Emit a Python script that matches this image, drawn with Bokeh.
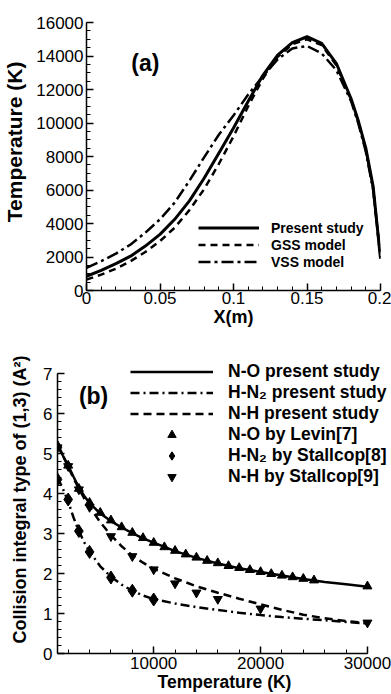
from bokeh.plotting import figure
from bokeh.models import (Legend, LegendItem, Label, SingleIntervalTicker,
                          FixedTicker, CustomJSTickFormatter)
from bokeh.embed import file_html
from bokeh.resources import INLINE

FONT = "Liberation Sans"

# ---------------- Panel (a) data ----------------
x_pos = [0.0, 0.01, 0.02, 0.03, 0.04, 0.05, 0.06, 0.07, 0.08, 0.09, 0.10,
         0.11, 0.12, 0.13, 0.14, 0.15, 0.16, 0.17, 0.18, 0.185, 0.19, 0.195, 0.20]
t_present = [850, 1200, 1600, 2050, 2650, 3350, 4250, 5350, 6700, 8200, 9700,
             11300, 12850, 14050, 14800, 15150, 14750, 13550, 11450, 10100, 8500, 6200, 1900]
t_gss = [650, 950, 1300, 1750, 2300, 2950, 3750, 4800, 6050, 7550, 9200,
         11000, 12650, 13950, 14700, 15000, 14650, 13450, 11400, 10050, 8400, 6100, 1900]
t_vss = [1350, 1750, 2200, 2750, 3450, 4250, 5250, 6550, 7950, 9300, 10450,
         11700, 12800, 13800, 14450, 14600, 14150, 13150, 11300, 9950, 8300, 6000, 2000]
labels_a = ["Present study", "GSS model", "VSS model"]

# ---------------- Panel (b) data ----------------
t_curve = [1000, 1500, 2000, 2500, 3000, 3500, 4000, 5000, 6000, 7000, 8000, 9000,
           10000, 12000, 14000, 16000, 18000, 20000, 22000, 24000, 26000, 28000, 30000]
no_curve = [5.25, 4.95, 4.70, 4.42, 4.15, 3.94, 3.76, 3.50, 3.31, 3.15, 3.01, 2.88,
            2.77, 2.56, 2.39, 2.25, 2.13, 2.04, 1.95, 1.86, 1.79, 1.73, 1.67]
hn2_curve = [4.40, 4.12, 3.80, 3.40, 3.06, 2.78, 2.55, 2.18, 1.92, 1.72, 1.57, 1.45,
             1.36, 1.25, 1.16, 1.09, 1.02, 0.96, 0.91, 0.87, 0.83, 0.79, 0.75]
nh_curve = [5.20, 4.95, 4.66, 4.38, 4.12, 3.88, 3.68, 3.28, 2.96, 2.68, 2.45, 2.27,
            2.12, 1.88, 1.68, 1.52, 1.37, 1.23, 1.09, 0.97, 0.88, 0.81, 0.76]

levin_t = [1000, 2000, 3000, 4000, 5000, 6000, 7000, 8000, 9000, 10000, 11000, 12000,
           13000, 14000, 15000, 16000, 17000, 18000, 19000, 20000, 21000, 22000, 23000,
           24000, 25000, 30000]
levin_no = [5.20, 4.70, 4.12, 3.77, 3.52, 3.33, 3.16, 3.02, 2.89, 2.77, 2.66, 2.57,
            2.48, 2.40, 2.32, 2.26, 2.19, 2.14, 2.09, 2.04, 1.99, 1.95, 1.91,
            1.87, 1.83, 1.68]
stall_hn2_t = [1000, 2000, 3000, 4000, 6000, 8000, 10000]
stall_hn2 = [4.35, 3.85, 3.06, 2.54, 1.90, 1.57, 1.35]
stall_nh_t = [1000, 2000, 3000, 4000, 6000, 8000, 10000, 12000, 14000, 16000, 20000, 30000]
stall_nh = [5.15, 4.68, 4.10, 3.66, 2.93, 2.43, 2.10, 1.75, 1.52, 1.36, 1.12, 0.77]
labels_b = ["N-O present study", "H-N\u2082 present study", "N-H present study",
            "N-O by Levin[7]", "H-N\u2082 by Stallcop[8]", "N-H by Stallcop[9]"]


def style(p, tick_size="17px"):
    p.grid.visible = False
    p.outline_line_color = None
    p.background_fill_color = "white"
    for ax in (p.xaxis[0], p.yaxis[0]):
        ax.axis_line_width = 1.5
        ax.axis_line_color = "black"
        ax.major_tick_in = 7
        ax.major_tick_out = 0
        ax.minor_tick_in = 4
        ax.minor_tick_out = 0
        ax.major_tick_line_width = 1.5
        ax.minor_tick_line_width = 1
        ax.major_tick_line_color = "black"
        ax.minor_tick_line_color = "black"
        ax.major_label_text_font = FONT
        ax.major_label_text_font_size = tick_size
        ax.major_label_text_color = "black"
        ax.axis_label_text_font = FONT
        ax.axis_label_text_font_style = "bold"
        ax.axis_label_text_color = "black"


# ---------------- Figure (a) ----------------
p1 = figure(width=391, height=340, x_range=(0, 0.2), y_range=(0, 16000),
            output_backend="svg", toolbar_location=None,
            min_border_left=85, min_border_right=11, min_border_top=22, min_border_bottom=50)
style(p1)
p1.xaxis[0].ticker = FixedTicker(ticks=[0, 0.05, 0.1, 0.15, 0.2],
                                 minor_ticks=[i * 0.01 for i in range(21)])
p1.xaxis[0].formatter = CustomJSTickFormatter(code="return String(Math.round(tick*100)/100);")
p1.yaxis[0].ticker = SingleIntervalTicker(interval=2000, num_minor_ticks=4)
p1.xaxis[0].axis_label = "X(m)"
# leading no-break spaces move the visible (rotated) label slightly upward, as in the original
p1.yaxis[0].axis_label = "\u00a0" * 5 + "Temperature (K)"
p1.xaxis[0].axis_label_text_font_size = "18px"
p1.yaxis[0].axis_label_text_font_size = "21px"
p1.xaxis[0].major_label_standoff = 1
p1.xaxis[0].axis_label_standoff = 0
p1.yaxis[0].major_label_standoff = 3
p1.yaxis[0].axis_label_standoff = 7

ra1 = p1.line(x_pos, t_present, line_color="black", line_width=3)
ra2 = p1.line(x_pos, t_gss, line_color="black", line_width=2.5, line_dash="7 5")
ra3 = p1.line(x_pos, t_vss, line_color="black", line_width=2.5, line_dash="12 4 3 4")

leg1 = Legend(items=[LegendItem(label=labels_a[0], renderers=[ra1]),
                     LegendItem(label=labels_a[1], renderers=[ra2]),
                     LegendItem(label=labels_a[2], renderers=[ra3])],
              location=(112, 20), padding=0, margin=0, spacing=0,
              glyph_width=61, glyph_height=17, label_height=17, label_standoff=12,
              border_line_color=None, background_fill_alpha=0,
              label_text_font=FONT, label_text_font_size="14px",
              label_text_font_style="bold", label_text_color="black")
p1.add_layout(leg1)
p1.add_layout(Label(x=0.0305, y=13600, text="(a)", text_font=FONT, text_font_size="23px",
                    text_font_style="bold", text_baseline="middle", text_color="black"))

# ---------------- Figure (b) ----------------
# frame extends beyond the drawn axes so that the legend is not clipped
p2 = figure(width=391, height=354, x_range=(1000, 32250), y_range=(0, 7.7),
            output_backend="svg", toolbar_location=None,
            min_border_left=57, min_border_right=0, min_border_top=5, min_border_bottom=40)
style(p2)
p2.xaxis[0].bounds = (1000, 30000)
p2.yaxis[0].bounds = (0, 7)
p2.xaxis[0].ticker = SingleIntervalTicker(interval=10000, num_minor_ticks=5)
p2.yaxis[0].ticker = SingleIntervalTicker(interval=1, num_minor_ticks=5)
p2.xaxis[0].axis_label = "Temperature (K)"
p2.yaxis[0].axis_label = "Collision integral type of (1,3) (A\u00b2)"
p2.xaxis[0].axis_label_text_font_size = "17.5px"
p2.yaxis[0].axis_label_text_font_size = "18px"
p2.xaxis[0].major_label_standoff = 3
p2.xaxis[0].axis_label_standoff = 0
p2.yaxis[0].major_label_standoff = 5
p2.yaxis[0].axis_label_standoff = 10

rb1 = p2.line(t_curve, no_curve, line_color="black", line_width=2.5)
rb2 = p2.line(t_curve, hn2_curve, line_color="black", line_width=2.5, line_dash="9 4 2 4")
rb3 = p2.line(t_curve, nh_curve, line_color="black", line_width=2.5, line_dash="8 5")
rb4 = p2.scatter(levin_t, levin_no, marker="triangle", size=9,
                 fill_color="black", line_color="black")
rb5 = p2.scatter(stall_hn2_t, stall_hn2, marker="diamond", size=13,
                 fill_color="black", line_color="black")
rb6 = p2.scatter(stall_nh_t, stall_nh, marker="inverted_triangle", size=9,
                 fill_color="black", line_color="black")

leg2 = Legend(items=[LegendItem(label=l, renderers=[r]) for l, r in
                     zip(labels_b, [rb1, rb2, rb3, rb4, rb5, rb6])],
              location=(73, 166), padding=0, margin=0, spacing=0,
              glyph_width=83, glyph_height=21, label_height=21, label_standoff=15,
              border_line_color=None, background_fill_alpha=0,
              label_text_font=FONT, label_text_font_size="17.5px",
              label_text_font_style="bold", label_text_color="black")
p2.add_layout(leg2)
p2.add_layout(Label(x=3000, y=6.43, text="(b)", text_font=FONT, text_font_size="23px",
                    text_font_style="bold", text_baseline="middle", text_color="black"))

open("out.html", "w").write(file_html([p1, p2], INLINE))
